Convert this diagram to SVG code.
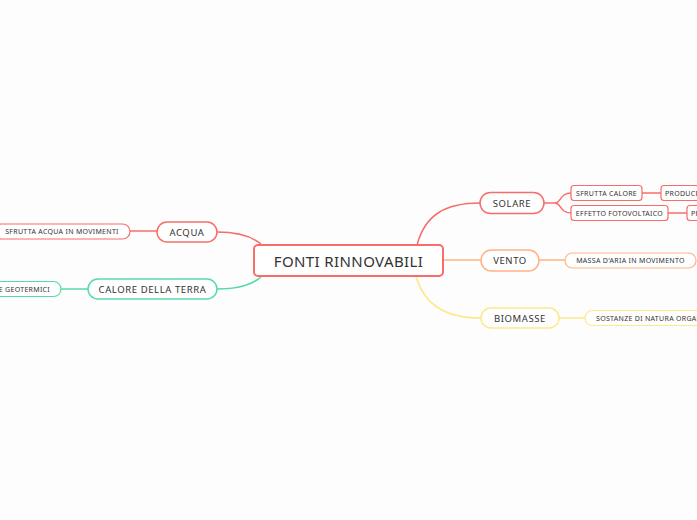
<svg xmlns="http://www.w3.org/2000/svg" width="697" height="520" viewBox="0 0 697 520">
<style>
text{font-family:"Noto Sans","DejaVu Sans",sans-serif;fill:#333;text-anchor:middle;dominant-baseline:central}
.c{font-size:15px;letter-spacing:0.4px}
.l1{font-size:9.5px;letter-spacing:0.6px}
.l2{font-size:7px;letter-spacing:0.3px}
rect{fill:#fff}
.r{stroke:#f76d6a}
.o{stroke:#ffb384}
.y{stroke:#fbe98a}
.g{stroke:#55dbab}
.n1{stroke-width:1.5}
.n2{stroke-width:1.2}
#connectors path{fill:none;stroke-width:1.5}
</style>
<rect x="0" y="0" width="697" height="520" style="fill:#fdfdfd"/>
<g id="connectors">
<path class="r" d="M417,245 C425,215 445,203 480,203"/>
<path class="o" d="M443,260 L481,260"/>
<path class="y" d="M416,277 C425,305 445,318 481,318"/>
<path class="r" d="M217,232 C240,232 255,238 263,246"/>
<path class="g" d="M217,289 C240,289 255,283 262,276"/>
<path class="r" d="M130,231 L157,231"/>
<path class="g" d="M61,289 L88,289"/>
<path class="o" d="M539,260 L565,260"/>
<path class="y" d="M559,318 L585,318"/>
<path class="r" d="M544,203 L555,203 C561,203 560,193 571,193"/>
<path class="r" d="M555,203 C561,203 560,213 571,213"/>
<path class="r" d="M642,193 L661,193"/>
<path class="r" d="M668,213 L687,213"/>
</g>
<g id="central">
<rect class="r" x="254" y="245" width="189" height="31" rx="4" stroke-width="2"/>
<text class="c" x="348.5" y="261">FONTI RINNOVABILI</text>
</g>
<g id="solare">
<rect class="r n1" x="480" y="192.5" width="64" height="21" rx="10.5"/>
<text class="l1" x="512" y="203">SOLARE</text>
</g>
<g id="sfrutta-calore">
<rect class="r n2" x="571" y="185.5" width="71" height="15" rx="3"/>
<text class="l2" x="606.5" y="193">SFRUTTA CALORE</text>
</g>
<g id="produce">
<rect class="r n2" x="661" y="185.5" width="60" height="15" rx="3"/>
<text class="l2" x="665" y="193" style="text-anchor:start">PRODUCE</text>
</g>
<g id="effetto">
<rect class="r n2" x="571" y="205.5" width="97" height="15" rx="3"/>
<text class="l2" x="619.5" y="213">EFFETTO FOTOVOLTAICO</text>
</g>
<g id="pi">
<rect class="r n2" x="687" y="205.5" width="40" height="15" rx="3"/>
<text class="l2" x="691" y="213" style="text-anchor:start">PRODUCE</text>
</g>
<g id="vento">
<rect class="o n1" x="481" y="250" width="58" height="21" rx="10.5"/>
<text class="l1" x="510" y="260.5">VENTO</text>
</g>
<g id="massa">
<rect class="o n2" x="565" y="253" width="131" height="15" rx="7.5"/>
<text class="l2" x="630.5" y="260.5">MASSA D'ARIA IN MOVIMENTO</text>
</g>
<g id="biomasse">
<rect class="y n1" x="481" y="308" width="78" height="20" rx="10"/>
<text class="l1" x="520" y="318">BIOMASSE</text>
</g>
<g id="sostanze">
<rect class="y n2" x="585" y="310.5" width="140" height="15" rx="7.5"/>
<text class="l2" x="596" y="318" style="text-anchor:start">SOSTANZE DI NATURA ORGANICA</text>
</g>
<g id="acqua">
<rect class="r n1" x="157" y="222" width="60" height="20" rx="10"/>
<text class="l1" x="187" y="232">ACQUA</text>
</g>
<g id="sfrutta-acqua">
<rect class="r n2" x="-6" y="224" width="136" height="15" rx="7.5"/>
<text class="l2" x="62" y="231.5">SFRUTTA ACQUA IN MOVIMENTI</text>
</g>
<g id="calore-terra">
<rect class="g n1" x="88" y="279" width="129" height="20" rx="10"/>
<text class="l1" x="152.5" y="289">CALORE DELLA TERRA</text>
</g>
<g id="geotermici">
<rect class="g n2" x="-60" y="281.5" width="121" height="15" rx="7.5"/>
<text class="l2" x="50" y="289" style="text-anchor:end">SORGENTE GEOTERMICI</text>
</g>
</svg>
